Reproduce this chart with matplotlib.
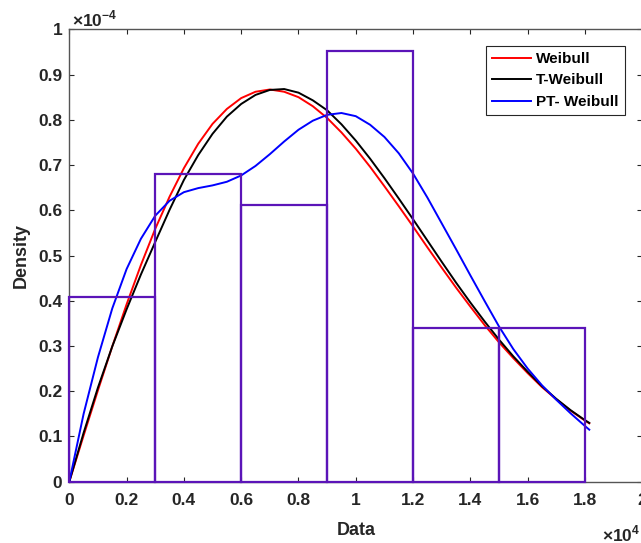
import numpy as np
import matplotlib
matplotlib.use('Agg')
import matplotlib.pyplot as plt

plt.rcParams['font.family'] = ['Liberation Sans', 'DejaVu Sans']
plt.rcParams['font.weight'] = 'bold'
plt.rcParams['mathtext.fontset'] = 'custom'
plt.rcParams['mathtext.rm'] = 'Liberation Sans:bold'
plt.rcParams['mathtext.bf'] = 'Liberation Sans:bold'

# data in display units: x in 1e4, density in 1e-4
bin_edges = [0, 0.3, 0.6, 0.9, 1.2, 1.5, 1.8]
bin_heights = [0.408, 0.680, 0.612, 0.952, 0.340, 0.340]

x_pts = [0, 0.05, 0.10, 0.15, 0.20, 0.25, 0.30, 0.35, 0.40, 0.45, 0.50,
         0.55, 0.60, 0.65, 0.70, 0.75, 0.80, 0.85, 0.90, 0.95, 1.00,
         1.05, 1.10, 1.15, 1.20, 1.25, 1.30, 1.35, 1.40, 1.45, 1.50,
         1.55, 1.60, 1.65, 1.70, 1.75, 1.80, 1.815]

weibull = [0, 0.102, 0.202, 0.299, 0.392, 0.479, 0.559, 0.630, 0.693, 0.747, 0.791,
           0.824, 0.848, 0.862, 0.867, 0.862, 0.850, 0.830, 0.804, 0.772, 0.736,
           0.696, 0.653, 0.609, 0.564, 0.518, 0.473, 0.429, 0.387, 0.346, 0.308,
           0.273, 0.240, 0.209, 0.182, 0.157, 0.135, 0.129]

t_weibull = [0, 0.108, 0.208, 0.299, 0.381, 0.458, 0.530, 0.601, 0.667, 0.722, 0.769,
             0.807, 0.835, 0.855, 0.866, 0.868, 0.860, 0.843, 0.821, 0.790, 0.754,
             0.714, 0.671, 0.626, 0.580, 0.533, 0.486, 0.440, 0.396, 0.354, 0.314,
             0.277, 0.243, 0.211, 0.183, 0.158, 0.136, 0.130]

pt_weibull = [0, 0.150, 0.275, 0.383, 0.470, 0.537, 0.588, 0.621, 0.640, 0.649, 0.655,
              0.663, 0.677, 0.698, 0.724, 0.752, 0.778, 0.798, 0.811, 0.815, 0.808,
              0.789, 0.762, 0.726, 0.681, 0.628, 0.571, 0.514, 0.456, 0.399, 0.343,
              0.293, 0.250, 0.213, 0.181, 0.151, 0.123, 0.115]

x_ticks = [0, 0.2, 0.4, 0.6, 0.8, 1, 1.2, 1.4, 1.6, 1.8, 2]
x_ticklabels = ['0', '0.2', '0.4', '0.6', '0.8', '1', '1.2', '1.4', '1.6', '1.8', '2']
y_ticks = [0, 0.1, 0.2, 0.3, 0.4, 0.5, 0.6, 0.7, 0.8, 0.9, 1]
y_ticklabels = ['0', '0.1', '0.2', '0.3', '0.4', '0.5', '0.6', '0.7', '0.8', '0.9', '1']

axis_col = '#262626'
hist_col = '#5b14b8'

fig = plt.figure(figsize=(6.41, 5.43), dpi=100)
ax = fig.add_axes([0.1081, 0.1129, 0.8939, 0.8331])

ax.plot(x_pts, weibull, color='#ff0000', lw=1.4, label='Weibull', zorder=3)
ax.plot(x_pts, t_weibull, color='black', lw=1.4, label='T-Weibull', zorder=3)
ax.plot(x_pts, pt_weibull, color='#0000ff', lw=1.4, label='PT- Weibull', zorder=3)

widths = np.diff(bin_edges)
bars = ax.bar(bin_edges[:-1], bin_heights, width=widths, align='edge', fill=False,
              edgecolor=hist_col, linewidth=1.6, zorder=4)
for b in bars:
    b.set_clip_on(False)

ax.set_xlim(0, 2)
ax.set_ylim(0, 1)
ax.set_xticks(x_ticks)
ax.set_xticklabels(x_ticklabels)
ax.set_yticks(y_ticks)
ax.set_yticklabels(y_ticklabels)
ax.tick_params(direction='in', length=3.6, width=0.8, color=axis_col,
               labelcolor=axis_col, labelsize=12.5, top=True, right=True)
ax.tick_params(axis='x', pad=8)
ax.tick_params(axis='y', pad=5)
for s in ax.spines.values():
    s.set_color('#555555')
    s.set_linewidth(1.0)

ax.set_xlabel('Data', fontsize=13, fontweight='bold', color=axis_col, labelpad=10)
ax.set_ylabel('Density', fontsize=13, fontweight='bold', color=axis_col, labelpad=6)

ax.text(0.005, 1.007, r'$\times10^{-4}$', transform=ax.transAxes, ha='left',
        va='baseline', fontsize=12.5, color=axis_col)
ax.text(0.997, -0.131, r'$\times10^{4}$', transform=ax.transAxes, ha='right',
        va='baseline', fontsize=12.5, color=axis_col)

leg = ax.legend(loc='upper right', bbox_to_anchor=(0.9693, 0.9637), borderaxespad=0,
                fontsize=11, handlelength=2.6, handletextpad=0.3, labelspacing=0.5,
                borderpad=0.4, fancybox=False, framealpha=1, edgecolor=axis_col)
leg.get_frame().set_linewidth(0.8)
for t in leg.get_texts():
    t.set_fontweight('bold')

fig.savefig('out.png', dpi=100)
